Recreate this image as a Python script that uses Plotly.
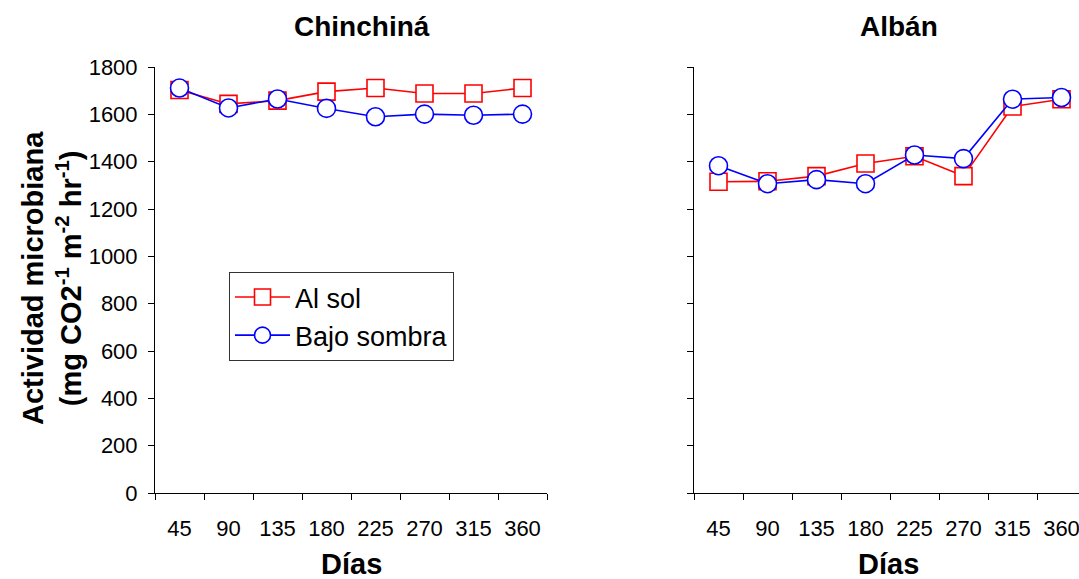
import plotly.graph_objects as go

dias = ["45", "90", "135", "180", "225", "270", "315", "360"]

chin_sol = [1703, 1644, 1658, 1696, 1711, 1688, 1688, 1711]
chin_sombra = [1711, 1627, 1665, 1625, 1590, 1601, 1596, 1601]

alban_sol = [1315, 1317, 1339, 1392, 1423, 1339, 1633, 1664]
alban_sombra = [1383, 1307, 1324, 1307, 1428, 1413, 1664, 1671]

y_ticks = [0, 200, 400, 600, 800, 1000, 1200, 1400, 1600, 1800]

FONT = "Arial, Liberation Sans, sans-serif"
W, H = 1079, 579

fig = go.Figure()

def add_pair(sol, sombra, xa, ya, show):
    fig.add_trace(go.Scatter(
        x=dias, y=sol, name="Al sol", mode="lines+markers",
        line=dict(color="#ff0000", width=1.6),
        marker=dict(symbol="square", size=17, color="white",
                    line=dict(color="#ff0000", width=1.6)),
        xaxis=xa, yaxis=ya, showlegend=show))
    fig.add_trace(go.Scatter(
        x=dias, y=sombra, name="Bajo sombra", mode="lines+markers",
        line=dict(color="#0000ff", width=1.6),
        marker=dict(symbol="circle", size=18, color="white",
                    line=dict(color="#0000ff", width=1.6)),
        xaxis=xa, yaxis=ya, showlegend=show))

add_pair(chin_sol, chin_sombra, "x", "y", True)
add_pair(alban_sol, alban_sombra, "x2", "y2", False)

top, bottom = 67, 86
plot_h = H - top - bottom

xcommon = dict(type="category", tickson="boundaries", ticks="outside", ticklen=6,
               tickcolor="black", showline=True, linecolor="black", linewidth=1,
               showgrid=False, zeroline=False,
               tickfont=dict(family=FONT, size=22, color="black"),
               ticklabelstandoff=16)
ycommon = dict(range=[0, 1800], tickvals=y_ticks, ticks="outside", ticklen=6,
               tickcolor="black", showline=True, linecolor="black", linewidth=1,
               showgrid=False, zeroline=False,
               tickfont=dict(family=FONT, size=22, color="black"),
               ticklabelstandoff=6)

r_left = 694 / W
r_width = (W - 694)
fig.update_layout(
    width=W, height=H,
    margin=dict(l=0, r=0, t=top, b=bottom),
    paper_bgcolor="white", plot_bgcolor="white",
    font=dict(family=FONT, color="black"),
    xaxis=dict(domain=[155 / W, 547 / W], range=[-0.5, 7.5], anchor="y", **xcommon),
    yaxis=dict(domain=[0, 1], anchor="x", **ycommon),
    xaxis2=dict(domain=[r_left, 1.0], range=[-0.5, -0.5 + r_width / 49.0], anchor="y2", **xcommon),
    yaxis2=dict(domain=[0, 1], anchor="x2", showticklabels=False, **ycommon),
    legend=dict(x=229 / W, y=(493 - 272) / plot_h, xanchor="left", yanchor="top",
                bgcolor="white", bordercolor="#333333", borderwidth=1,
                font=dict(family=FONT, size=27, color="black"),
                itemwidth=55, entrywidth=190, entrywidthmode="pixels"),
    showlegend=True,
)

def ann(text, x, y, size, angle=0):
    fig.add_annotation(text=text, x=x / W, y=(H - bottom - y) / plot_h,
                       xref="paper", yref="paper", showarrow=False,
                       xanchor="center", yanchor="middle", textangle=angle,
                       font=dict(family=FONT, size=size, color="black"))

ann("<b>Chinchiná</b>", 362, 26, 28)
ann("<b>Albán</b>", 899, 26, 28)
ann("<b>Días</b>", 351, 564, 29)
ann("<b>Días</b>", 888, 564, 29)
ann("<b>Actividad microbiana<br>(mg CO2<sup>-1</sup> m<sup>-2</sup> hr<sup>-1</sup>)</b>",
    52, 278, 29, angle=-90)

fig.write_html("out.html", config={"displayModeBar": False},
               post_script="document.body.style.margin='0';document.body.style.overflow='hidden';")
